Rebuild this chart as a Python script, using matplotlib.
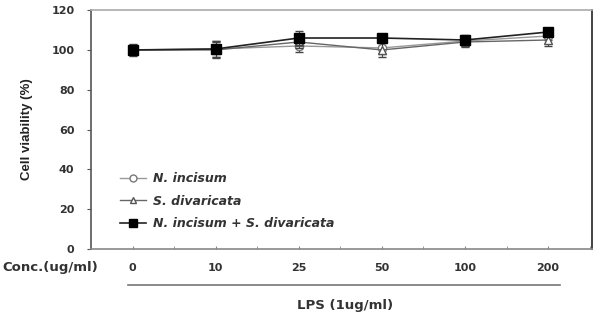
import numpy as np
import matplotlib.pyplot as plt
from matplotlib.lines import Line2D

plt.rcParams['font.family'] = ['Liberation Sans', 'DejaVu Sans']

conc = ['0', '10', '25', '50', '100', '200']
n_incisum = [100, 100.5, 102, 101, 104.5, 107]
n_incisum_err = [2.5, 4, 3, 3, 2.5, 2]
s_divaricata = [100, 100, 104, 100, 104, 105]
s_divaricata_err = [2.5, 4, 3, 3.5, 2.5, 3]
combo = [100, 100.5, 106, 106, 105, 109]
combo_err = [3, 4, 3.5, 2, 2.5, 1.5]
labels = ['N. incisum', 'S. divaricata', 'N. incisum + S. divaricata']

x = np.arange(len(conc))
wide = 'DejaVu Sans'  # the reference text looks horizontally stretched

fig = plt.figure(figsize=(5.93, 3.27), dpi=100)
ax = fig.add_axes([0.1535, 0.2385, 0.845, 0.7305])

styles = [
    dict(color='#999999', lw=1.0, marker='o', ms=6, mfc='white', mec='#777777'),
    dict(color='#666666', lw=1.0, marker='^', ms=6, mfc='white', mec='#555555'),
    dict(color='#222222', lw=1.2, marker='s', ms=7, mfc='black', mec='black'),
]
series = [(n_incisum, n_incisum_err), (s_divaricata, s_divaricata_err), (combo, combo_err)]
for i, ((y, e), st) in enumerate(zip(series, styles)):
    ax.errorbar(x, y, yerr=e, ecolor='#444444', elinewidth=0.8, capsize=3,
                zorder=3 + i, **st)

ax.set_xlim(-0.5, 5.53)
ax.set_ylim(0, 120)
ax.set_yticks(range(0, 121, 20))
ax.set_yticklabels([str(v) for v in range(0, 121, 20)], fontsize=8,
                   fontweight='bold', color='#333333', family=wide)
ax.tick_params(axis='y', direction='out', length=3, color='#555555', pad=9)

ax.set_xticks(x)
ax.set_xticklabels(conc, fontsize=8, fontweight='bold', color='#333333', family=wide)
ax.set_xticks(np.arange(-0.5, 5.6, 0.5)[1:], minor=True)
ax.tick_params(axis='x', which='both', direction='in', length=2,
               color='#888888', pad=10)

ax.spines['top'].set_color('#aaaaaa')
ax.spines['right'].set_color('#222222')
ax.spines['left'].set_color('#555555')
ax.spines['bottom'].set_color('#888888')
for s in ax.spines.values():
    s.set_linewidth(1.2)

ax.set_ylabel('Cell viability (%)', fontsize=9.5, fontweight='bold',
              color='#222222', labelpad=13)

# legend handles without error bars, smaller markers
handles = []
for st in styles:
    h = dict(st)
    h['ms'] = h['ms'] - 1
    handles.append(Line2D([], [], **h))
leg = ax.legend(handles, labels, loc='lower left', bbox_to_anchor=(0.035, 0.033),
                frameon=False,
                prop={'size': 9, 'style': 'italic', 'weight': 'bold', 'family': wide},
                handlelength=2.1, handletextpad=0.55, labelspacing=0.75)
for t in leg.get_texts():
    t.set_color('#333333')

fig.text(2 / 593, 1 - 268 / 327, 'Conc.(ug/ml)', fontsize=9.5, fontweight='bold',
         color='#333333', va='center', ha='left', family=wide)
fig.add_artist(Line2D([128 / 593, 560 / 593], [1 - 285 / 327, 1 - 285 / 327],
                      color='#777777', lw=1.2))
fig.text(297 / 593, 1 - 305 / 327, 'LPS (1ug/ml)', fontsize=9.5, fontweight='bold',
         color='#333333', va='center', ha='left', family=wide)

fig.savefig('out.png', dpi=100)
